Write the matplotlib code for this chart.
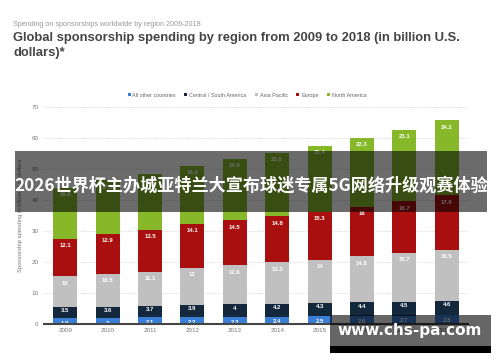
import matplotlib
matplotlib.use("Agg")
import matplotlib.pyplot as plt
from matplotlib.patches import Rectangle, Patch
import numpy as np

years = ["2009", "2010", "2011", "2012", "2013", "2014", "2015", "2016", "2017", "2018**"]
all_other = [1.9, 2, 2.1, 2.2, 2.3, 2.4, 2.5, 2.6, 2.7, 2.8]
central_south = [3.5, 3.6, 3.7, 3.9, 4, 4.2, 4.3, 4.4, 4.5, 4.6]
asia_pacific = [10, 10.5, 11.1, 12, 12.6, 13.3, 14, 14.8, 15.7, 16.5]
europe = [12.1, 12.9, 13.5, 14.1, 14.5, 14.8, 15.3, 16, 16.7, 17.6]
north_america = [16.5, 17.3, 18.0, 18.9, 19.8, 20.6, 21.4, 22.3, 23.1, 24.2]
series_names = ["All other countries", "Central / South America", "Asia Pacific", "Europe", "North America"]

series = [all_other, central_south, asia_pacific, europe, north_america]
colors = ["#3a7fd5", "#13283d", "#c0c0c0", "#a90f0f", "#86b829"]
label_offsets = [1.7, 1.2, 2.2, 2.2, 2.2]

plt.rcParams['font.family'] = ['Liberation Sans', 'DejaVu Sans']

fig = plt.figure(figsize=(5.0, 3.62), dpi=100)
ax = fig.add_axes([0.088, 0.105, 0.848, 0.5995])

x = np.arange(len(years))
bottom = np.zeros(len(years))
for vals, col, off in zip(series, colors, label_offsets):
    vals = np.array(vals, dtype=float)
    ax.bar(x, vals, 0.57, bottom=bottom, color=col, zorder=2)
    for xi, b, v in zip(x, bottom, vals):
        ax.text(xi, b + v - off, f"{v:g}", ha="center", va="center",
                fontsize=4.3, color="white", fontweight="bold", zorder=3)
    bottom += vals

ax.set_xlim(-0.5, len(years) - 0.5)
ax.set_ylim(0, 70)
ax.set_yticks(range(0, 71, 10))
ax.set_xticks(x)
ax.set_xticklabels(years)
ax.tick_params(axis="both", length=0, labelsize=4.5, colors="#777777")
ax.tick_params(axis="x", pad=3)
ax.tick_params(axis="y", pad=4)
for s in ["top", "right", "left"]:
    ax.spines[s].set_visible(False)
ax.spines["bottom"].set_color("#444444")
ax.spines["bottom"].set_linewidth(1.5)
ax.spines["bottom"].set_zorder(4)
ax.yaxis.grid(True, linestyle=(0, (1, 1.5)), color="#cccccc", linewidth=0.6, zorder=0)
ax.set_axisbelow(True)
ax.set_ylabel("Sponsorship spending in billion U.S. dollars", fontsize=4.2, color="#777777", labelpad=6)

handles = [Patch(facecolor=c, label=n) for c, n in zip(colors, series_names)]
fig.legend(handles=handles, loc="center", bbox_to_anchor=(0.494, 0.737), ncol=5, frameon=False,
           fontsize=3.9, handlelength=0.55, handleheight=0.55, handletextpad=0.3,
           columnspacing=1.6, labelcolor="#666666")

fig.text(0.026, 1 - 24 / 362, "Spending on sponsorships worldwide by region 2009-2018", fontsize=5.2,
         color="#999999", va="center", ha="left")
fig.text(0.026, 1 - 32 / 362, "Global sponsorship spending by region from 2009 to 2018 (in billion U.S.\ndollars)*",
         fontsize=9.4, color="#444444", fontweight="bold", va="top", ha="left", linespacing=1.3)

# overlay banner
fig.patches.append(Rectangle((0.030, 1 - 212 / 362), 0.944, 61 / 362, transform=fig.transFigure,
                             facecolor="black", alpha=0.58, edgecolor="none", zorder=10))
fig.text(0.502, 1 - 186 / 362, "2026世界杯主办城亚特兰大宣布球迷专属5G网络升级观赛体验",
         family=["Noto Sans CJK SC", "DejaVu Sans"], fontsize=12.3, fontweight="bold",
         color="white", ha="center", va="center", zorder=11)

# watermark box
fig.patches.append(Rectangle((330 / 500, 1 - 346 / 362), 161 / 500, 31 / 362, transform=fig.transFigure,
                             facecolor="black", alpha=0.6, edgecolor="none", zorder=10))
fig.patches.append(Rectangle((330 / 500, 1 - 353 / 362), 161 / 500, 7 / 362, transform=fig.transFigure,
                             facecolor="black", alpha=1.0, edgecolor="none", zorder=10))
fig.text(410 / 500, 1 - 331 / 362, "www.chs-pa.com", family=["DejaVu Sans"], fontsize=11,
         fontweight="bold", color="white", ha="center", va="center", zorder=11)

fig.savefig("out.png", dpi=100)
